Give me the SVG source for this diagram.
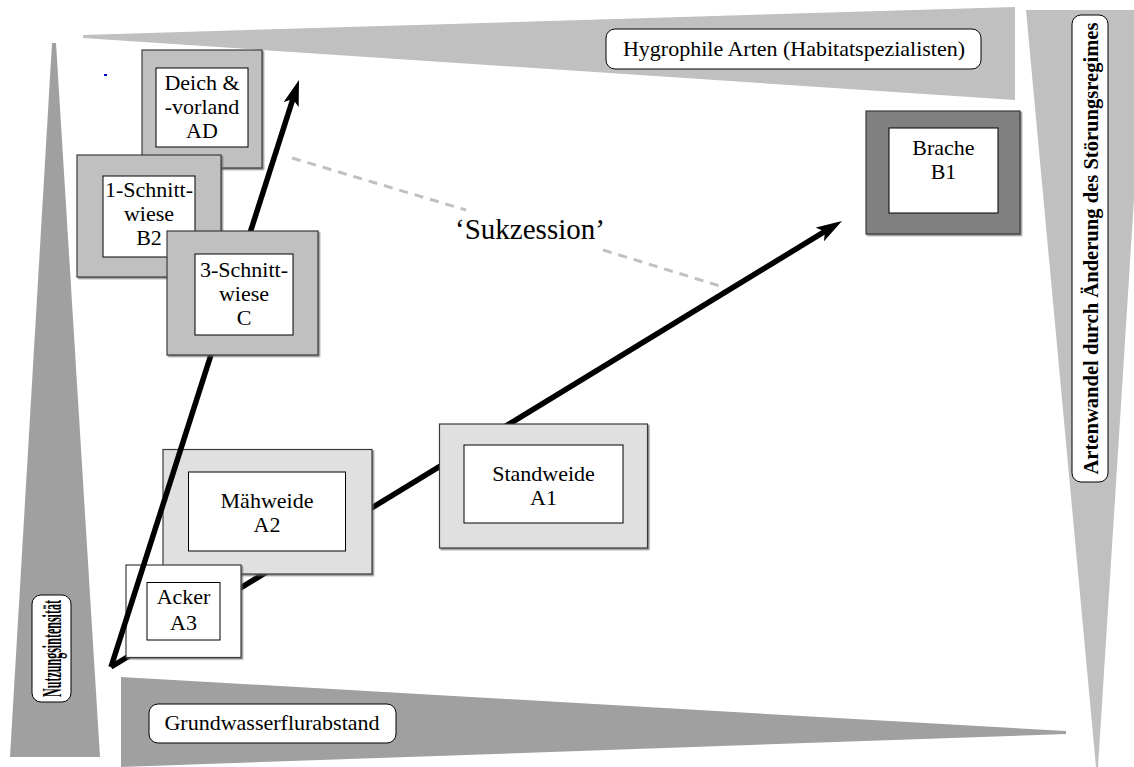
<svg xmlns="http://www.w3.org/2000/svg" width="1134" height="767" viewBox="0 0 1134 767">
  <defs>
    <style>
      .wedgeL { fill: #c0c0c0; }
      .wedgeD { fill: #a0a0a0; }
      .lbl { fill: #ffffff; stroke: #000000; stroke-width: 1; }
      .t { font-family: "Liberation Serif", "Times New Roman", serif; font-size: 22px; fill: #000000; text-anchor: middle; }
      .tb { font-family: "Liberation Serif", "Times New Roman", serif; font-weight: bold; fill: #000000; text-anchor: middle; }
      .outer { stroke: #3a3a3a; stroke-width: 1.2; filter: url(#sh); }
      .inner { fill: #ffffff; stroke: #000000; stroke-width: 1; }
      .g1 { fill: #c0c0c0; }
      .g2 { fill: #e0e0e0; }
      .g3 { fill: #ffffff; }
      .g4 { fill: #808080; }
      .arrow { fill: none; stroke: #000000; stroke-width: 5.5; marker-end: url(#ah); }
      .dash { fill: none; stroke: #c0c0c0; stroke-width: 3; stroke-dasharray: 9 7; }
    </style>
    <marker id="ah" markerUnits="userSpaceOnUse" markerWidth="26" markerHeight="16" viewBox="0 0 26 16" refX="6" refY="8" orient="auto">
      <path d="M0,0 L26,8 L0,16 L6,8 z" fill="#000000"/>
    </marker>
    <filter id="sh" x="-5%" y="-5%" width="110%" height="110%">
      <feDropShadow dx="1.5" dy="1.5" stdDeviation="0.6" flood-color="#606060" flood-opacity="0.7"/>
    </filter>
  </defs>

  <g id="axes">
    <polygon class="wedgeL" points="83,35 1015,7 1015,100 83,38"/>
    <polygon class="wedgeL" points="1026,10 1146,10 1098,767 1096,767"/>
    <polygon class="wedgeD" points="52,43 56,43 100,757 10,757"/>
    <polygon class="wedgeD" points="121,677 1066,731 1066,734 121,767"/>
  </g>

  <g id="label-hygrophile">
    <rect class="lbl" x="606" y="29" width="375" height="40" rx="9"/>
    <text class="t" x="794" y="56">Hygrophile Arten (Habitatspezialisten)</text>
  </g>
  <g id="label-artenwandel">
    <rect class="lbl" x="1072" y="15" width="36" height="467" rx="9"/>
    <text class="tb" font-size="22" transform="translate(1097.5,248.5) rotate(-90)" textLength="452" lengthAdjust="spacingAndGlyphs">Artenwandel durch Änderung des Störungsregimes</text>
  </g>
  <g id="label-nutzung">
    <rect class="lbl" x="32" y="595" width="39" height="107" rx="9"/>
    <text class="tb" font-size="27" transform="translate(61,648.5) rotate(-90)" textLength="97" lengthAdjust="spacingAndGlyphs">Nutzungsintensität</text>
  </g>
  <g id="label-grundwasser">
    <rect class="lbl" x="149" y="704" width="247" height="39" rx="9"/>
    <text class="t" x="272" y="730">Grundwasserflurabstand</text>
  </g>

  <rect x="104" y="74" width="3" height="2" fill="#0000c0"/>

  <g id="connectors-back">
    <path class="dash" d="M292,158 L466,210 M603,250 L720,286"/>
    <path id="arrow-intensive" class="arrow" d="M111,667 L824.9,231.4"/>
  </g>

  <g id="node-standweide">
    <rect class="outer g2" x="439.5" y="424" width="208" height="124"/>
    <rect class="inner" x="464" y="445" width="159" height="78"/>
    <text class="t" x="543.5" y="481">Standweide</text>
    <text class="t" x="543.5" y="505">A1</text>
  </g>
  <g id="node-maehweide">
    <rect class="outer g2" x="163" y="449.5" width="209" height="124.5"/>
    <rect class="inner" x="188.5" y="472" width="157" height="79"/>
    <text class="t" x="267" y="508">Mähweide</text>
    <text class="t" x="267" y="532">A2</text>
  </g>
  <g id="node-acker">
    <rect class="outer g3" x="126" y="565" width="115" height="92.5"/>
    <rect class="inner" x="147" y="582.5" width="73" height="57.5"/>
    <text class="t" x="183.5" y="604">Acker</text>
    <text class="t" x="183.5" y="630">A3</text>
  </g>

  <g id="connectors-front">
    <path id="arrow-extensive" class="arrow" d="M111,667 L292.9,99"/>
  </g>

  <g id="node-deich">
    <rect class="outer g1" x="142" y="50" width="120" height="118"/>
    <rect class="inner" x="156" y="68" width="92" height="79"/>
    <text class="t" x="202" y="90">Deich &amp;</text>
    <text class="t" x="202" y="114">-vorland</text>
    <text class="t" x="202" y="138">AD</text>
  </g>
  <g id="node-einschnitt">
    <rect class="outer g1" x="77" y="155" width="144" height="122"/>
    <rect class="inner" x="103" y="176" width="92" height="81"/>
    <text class="t" x="149" y="197">1-Schnitt-</text>
    <text class="t" x="149" y="221">wiese</text>
    <text class="t" x="149" y="245">B2</text>
  </g>
  <g id="node-dreischnitt">
    <rect class="outer g1" x="167" y="231" width="151" height="124"/>
    <rect class="inner" x="195" y="254" width="98" height="81"/>
    <text class="t" x="244" y="277">3-Schnitt-</text>
    <text class="t" x="244" y="301">wiese</text>
    <text class="t" x="244" y="325">C</text>
  </g>
  <g id="node-brache">
    <rect class="outer g4" x="866" y="111" width="154" height="123"/>
    <rect class="inner" x="889" y="128" width="109" height="85"/>
    <text class="t" x="943.5" y="155">Brache</text>
    <text class="t" x="943.5" y="179">B1</text>
  </g>

  <g id="label-sukzession">
    <text class="t" x="530" y="239" style="font-size:29px">‘Sukzession’</text>
  </g>
</svg>
